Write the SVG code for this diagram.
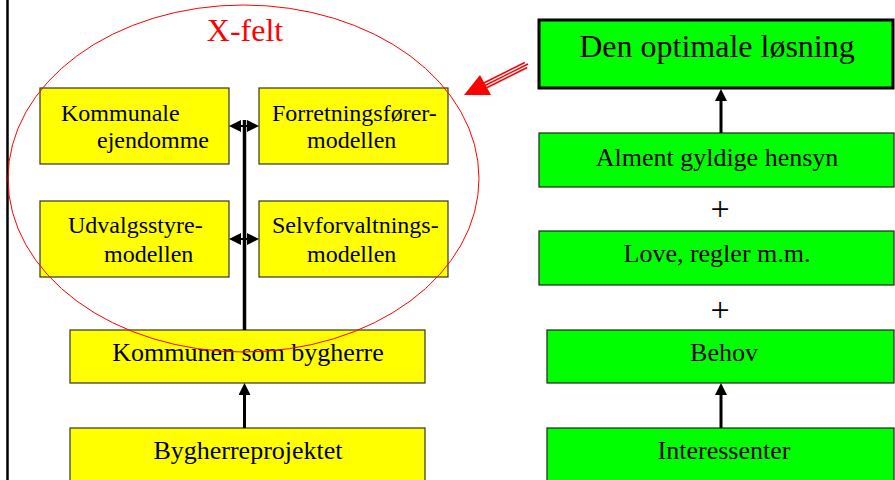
<svg xmlns="http://www.w3.org/2000/svg" width="895" height="480" viewBox="0 0 895 480">
<defs>
<style>
text{font-family:"Liberation Serif","Times New Roman",serif;fill:#000}
.y{fill:#ffff00;stroke:#333;stroke-width:1.2}
.g{fill:#00ff00;stroke:#222;stroke-width:1.2}
.t24{font-size:24px}
.t26{font-size:26px;text-anchor:middle}
.conn{stroke:#000;fill:none}
</style>
<marker id="ah" viewBox="0 0 12 12" refX="4" refY="6" markerWidth="12" markerHeight="12" markerUnits="userSpaceOnUse" orient="auto-start-reverse">
<path d="M0,0 L12,6 L0,12 z" fill="#000"/>
</marker>
</defs>
<rect x="0" y="0" width="895" height="480" fill="#fff"/>
<line x1="7.5" y1="0" x2="7.5" y2="480" stroke="#000" stroke-width="2.5"/>

<g id="kommunale">
<rect class="y" x="40" y="88" width="189" height="76"/>
<text class="t24" x="61" y="121">Kommunale</text>
<text class="t24" x="97" y="148">ejendomme</text>
</g>
<g id="forretning">
<rect class="y" x="259" y="88" width="189" height="76"/>
<text class="t24" x="272" y="121">Forretningsfører-</text>
<text class="t24" x="307" y="148">modellen</text>
</g>
<g id="udvalg">
<rect class="y" x="40" y="201" width="189" height="76"/>
<text class="t24" x="68" y="233">Udvalgsstyre-</text>
<text class="t24" x="104" y="262">modellen</text>
</g>
<g id="selvforvaltning">
<rect class="y" x="259" y="201" width="189" height="76"/>
<text class="t24" x="272" y="233">Selvforvaltnings-</text>
<text class="t24" x="307" y="262">modellen</text>
</g>
<g id="kommunen">
<rect class="y" x="70" y="330" width="355" height="53"/>
<text class="t26" x="248" y="361">Kommunen som bygherre</text>
</g>
<g id="bygherreprojekt">
<rect class="y" x="70" y="428" width="355" height="56"/>
<text class="t26" x="248" y="459">Bygherreprojektet</text>
</g>

<g id="optimal">
<rect x="539" y="20" width="354" height="68" fill="#00ff00" stroke="#000" stroke-width="3"/>
<text x="717" y="57" font-size="32" text-anchor="middle">Den optimale løsning</text>
</g>
<g id="alment">
<rect class="g" x="539" y="133" width="355" height="54"/>
<text class="t26" x="717" y="166">Alment gyldige hensyn</text>
</g>
<g id="love">
<rect class="g" x="539" y="231" width="355" height="54"/>
<text class="t26" x="717" y="262">Love, regler m.m.</text>
</g>
<g id="behov">
<rect class="g" x="547" y="330" width="347" height="53"/>
<text class="t26" x="724" y="361">Behov</text>
</g>
<g id="interessenter">
<rect class="g" x="547" y="428" width="347" height="56"/>
<text class="t26" x="724" y="459">Interessenter</text>
</g>

<text x="720" y="220" font-size="34" text-anchor="middle">+</text>
<text x="720" y="321" font-size="34" text-anchor="middle">+</text>

<g id="connectors">
<line class="conn" x1="244.5" y1="120" x2="244.5" y2="330" stroke-width="3.5"/>
<line class="conn" x1="237" y1="126" x2="251" y2="126" stroke-width="2" marker-start="url(#ah)" marker-end="url(#ah)"/>
<line class="conn" x1="237" y1="239" x2="251" y2="239" stroke-width="2" marker-start="url(#ah)" marker-end="url(#ah)"/>
<line class="conn" x1="244.5" y1="428" x2="244.5" y2="391" stroke-width="3" marker-end="url(#ah)"/>
<line class="conn" x1="721" y1="133" x2="721" y2="97" stroke-width="3" marker-end="url(#ah)"/>
<line class="conn" x1="721" y1="428" x2="721" y2="391" stroke-width="3" marker-end="url(#ah)"/>
<g id="red-arrow">
<line x1="484" y1="86" x2="526" y2="65" stroke="#ff0000" stroke-width="7"/>
<line x1="482" y1="87" x2="528" y2="64" stroke="#fff" stroke-width="4"/>
<line x1="482" y1="87" x2="528" y2="64" stroke="#ff0000" stroke-width="1.4"/>
<polygon points="464,95 491,95 480,75" fill="#ff0000"/>
</g>
</g>

<g id="x-felt">
<ellipse cx="243.5" cy="178.5" rx="235.5" ry="173.5" fill="none" stroke="#ff0000" stroke-width="1"/>
<text x="245" y="41" font-size="32" text-anchor="middle" fill="#ff0000" style="fill:#ff0000">X-felt</text>
</g>
</svg>
